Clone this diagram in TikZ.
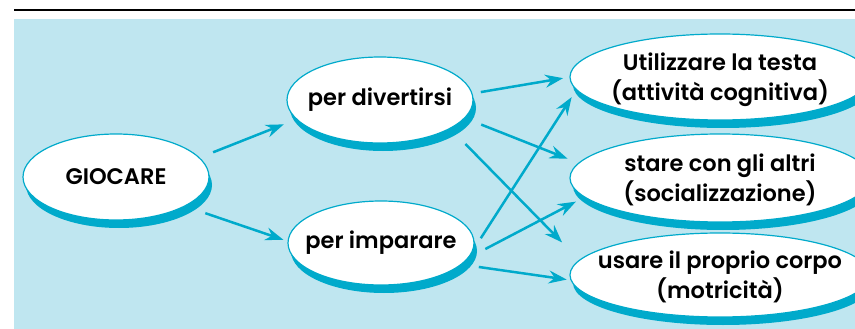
\documentclass[tikz,border=0pt]{standalone}
\usepackage{fontspec}
\setmainfont{Poppins}[BoldFont={Poppins SemiBold}]
\usetikzlibrary{shapes.geometric,arrows.meta,shadows}
\definecolor{bgblue}{RGB}{191,230,240}
\definecolor{cyanc}{RGB}{0,170,203}
\tikzset{
  bubble/.style={ellipse, draw=cyanc, line width=1.2pt, fill=white, outer sep=0pt,
    inner xsep=-40pt, inner ysep=-8pt, align=center, font=\fontsize{22.5}{30}\selectfont\bfseries,
    drop shadow={shadow xshift=3pt, shadow yshift=-8pt, fill=cyanc, opacity=1}},
  small/.style={bubble, minimum width=186pt, minimum height=86pt},
  big/.style={bubble, minimum width=300pt, minimum height=86pt, text depth=-1.5pt},
  arr/.style={draw=cyanc, line width=2.5pt, -{Stealth[length=18pt,width=13pt,inset=6pt]}}
}
\begin{document}
\begin{tikzpicture}[x=1pt,y=-1pt]
\useasboundingbox (0,0) rectangle (855,329);
\draw[line width=1.5pt] (14,10) -- (855,10);
\fill[bgblue] (14,19) rectangle (855,329);
\begin{scope}
\clip (14,19) rectangle (855,329);
\node[small] (G) at (116,177) {GIOCARE};
\node[small] (D) at (380,100) {per divertirsi};
\node[small, minimum height=84pt] (I) at (381,243) {per imparare};
\node[big] (U) at (720,77) {Utilizzare la testa\\(attività cognitiva)};
\node[big, minimum height=88pt] (S) at (720,178) {stare con gli altri\\(socializzazione)};
\node[big, minimum height=84pt] (M) at (720,275) {usare il proprio corpo\\(motricità)};
\end{scope}
\draw[arr, shorten <=15pt, shorten >=14pt] (G.13) -- (D.193);
\draw[arr, shorten <=22pt, shorten >=5pt] (G.-23) -- (I.179);
\draw[arr, shorten <=9pt, shorten >=7pt] (D.4) -- (U.180);
\draw[arr, shorten <=18pt, shorten >=12pt] (D.-12) -- (S.174);
\draw[arr, shorten <=22pt, shorten >=25pt] (D.-22) -- (M.174);
\draw[arr, shorten <=17pt, shorten >=9pt] (I.-6) -- (U.185.5);
\draw[arr, shorten <=20pt, shorten >=10pt] (I.-10) -- (S.188);
\draw[arr, shorten <=18pt, shorten >=4.5pt] (I.-15) -- (M.182);
\end{tikzpicture}
\end{document}
